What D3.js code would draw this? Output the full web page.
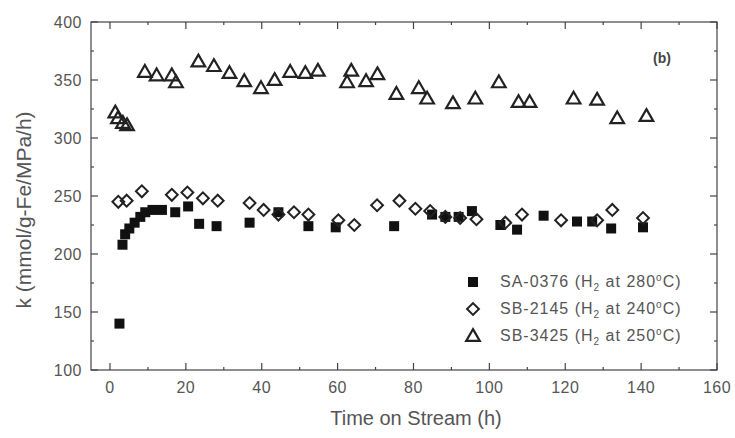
<!DOCTYPE html>
<html>
<head>
<meta charset="utf-8">
<script src="https://cdn.jsdelivr.net/npm/d3@7"></script>
<style>
  body { margin: 0; background: #fff; }
  svg { font-family: "Liberation Sans", Arial, sans-serif; }
</style>
</head>
<body>
<svg id="chart" width="735" height="438"></svg>
<script>
// data: [time (h), k]
var saData = [
  [2.5, 140], [3.3, 208], [4.0, 217], [5.1, 222], [6.5, 227], [8.0, 232],
  [9.3, 236], [11.2, 238], [13.7, 238], [17.2, 236], [20.6, 241], [23.5, 226],
  [28.1, 224], [36.8, 227], [44.4, 236], [52.3, 224], [59.5, 223], [74.9, 224],
  [84.9, 234], [88.4, 232], [91.9, 232], [95.4, 237], [102.9, 225], [107.3, 221],
  [114.3, 233], [123.1, 228], [127.1, 228], [132.1, 222], [140.5, 223]
];
var sbData = [
  [2.2, 245], [4.4, 246], [8.4, 254], [16.3, 251], [20.4, 253], [24.5, 248],
  [28.4, 246], [36.8, 244], [40.5, 238], [44.4, 234], [48.5, 236], [52.3, 234],
  [60.2, 229], [64.4, 225], [70.4, 242], [76.3, 246], [80.5, 239], [84.4, 237],
  [88.4, 232], [92.3, 231], [96.6, 230], [104.2, 227], [108.6, 234], [118.9, 229],
  [128.4, 229], [132.4, 238], [140.5, 231]
];
var sb3Data = [
  [1.4, 322], [2.1, 317], [3.4, 313], [4.5, 311], [9.2, 357], [12.3, 354],
  [16.3, 354], [17.4, 348], [23.3, 366], [27.4, 362], [31.5, 356], [35.4, 349],
  [39.8, 343], [43.4, 350], [47.5, 357], [51.5, 356], [54.8, 358], [62.5, 348],
  [63.6, 358], [67.5, 349], [70.5, 355], [75.5, 338], [81.4, 343], [83.6, 334],
  [90.4, 330], [96.3, 334], [102.5, 348], [107.7, 331], [110.6, 331], [122.2, 334],
  [128.4, 333], [133.7, 317], [141.4, 319]
];
var xTicks = [0, 20, 40, 60, 80, 100, 120, 140, 160];
var yTicks = [100, 150, 200, 250, 300, 350, 400];
var legendLabels = ['SA-0376 (H', 'SB-2145 (H', 'SB-3425 (H'];
var legendTemps = [' at 280', ' at 240', ' at 250'];

var ink = '#444';
var textInk = '#555';

// plot frame (pixels)
var frame = {left: 91, right: 717, top: 22, bottom: 370};
var svg = d3.select('#chart');

var x = d3.scaleLinear().domain([-5, 160]).range([frame.left, frame.right]);
var y = d3.scaleLinear().domain([100, 400]).range([frame.bottom, frame.top]);

// frame
svg.append('rect')
  .attr('x', frame.left).attr('y', frame.top)
  .attr('width', frame.right - frame.left).attr('height', frame.bottom - frame.top)
  .attr('fill', 'none').attr('stroke', ink).attr('stroke-width', 1.2);

// inward ticks on all four sides
var xMinor = d3.range(10, 160, 20);
var yMinor = d3.range(125, 400, 50);
function xTickMarks(vals, len) {
  [[frame.bottom, -len], [frame.top, len]].forEach(function(s) {
    svg.selectAll(null).data(vals).enter().append('line')
      .attr('x1', d => x(d)).attr('x2', d => x(d))
      .attr('y1', s[0]).attr('y2', s[0] + s[1])
      .attr('stroke', ink).attr('stroke-width', 1.2);
  });
}
function yTickMarks(vals, len) {
  [[frame.left, len], [frame.right, -len]].forEach(function(s) {
    svg.selectAll(null).data(vals).enter().append('line')
      .attr('y1', d => y(d)).attr('y2', d => y(d))
      .attr('x1', s[0]).attr('x2', s[0] + s[1])
      .attr('stroke', ink).attr('stroke-width', 1.2);
  });
}
xTickMarks(xTicks, 7);
xTickMarks(xMinor, 3);
yTickMarks(yTicks, 7);
yTickMarks(yMinor, 3);

// tick labels
svg.selectAll(null).data(xTicks).enter().append('text')
  .attr('x', d => x(d)).attr('y', frame.bottom + 23)
  .attr('text-anchor', 'middle')
  .attr('font-size', 16).attr('letter-spacing', 0.5).attr('fill', textInk)
  .text(d => d);
svg.selectAll(null).data(yTicks).enter().append('text')
  .attr('x', frame.left - 9).attr('y', d => y(d) + 6)
  .attr('text-anchor', 'end')
  .attr('font-size', 16).attr('letter-spacing', 0.5).attr('fill', textInk)
  .text(d => d);

// axis titles
svg.append('text')
  .attr('x', 416).attr('y', 425)
  .attr('text-anchor', 'middle')
  .attr('font-size', 20).attr('fill', textInk)
  .text('Time on Stream (h)');
svg.append('text')
  .attr('transform', 'translate(31,210) rotate(-90)')
  .attr('text-anchor', 'middle')
  .attr('font-size', 21).attr('fill', textInk)
  .text('k (mmol/g-Fe/MPa/h)');

svg.append('text')
  .attr('x', 662).attr('y', 63)
  .attr('text-anchor', 'middle')
  .attr('font-size', 14).attr('font-weight', 'bold').attr('fill', ink)
  .text('(b)');

// marker shapes
var squareSym = d3.symbol().type(d3.symbolSquare).size(100);
var triSym = d3.symbol().type(d3.symbolTriangle).size(80);
var diaSym = d3.symbol().type(d3.symbolSquare).size(70);

function drawSquare(g, px, py) {
  g.append('path').attr('d', squareSym())
    .attr('transform', 'translate(' + px + ',' + py + ')')
    .attr('fill', '#111');
}
function drawDiamond(g, px, py) {
  g.append('path').attr('d', diaSym())
    .attr('transform', 'translate(' + px + ',' + py + ') rotate(45)')
    .attr('fill', 'none').attr('stroke', '#222').attr('stroke-width', 2);
}
function drawTriangle(g, px, py) {
  g.append('path').attr('d', triSym())
    .attr('transform', 'translate(' + px + ',' + (py + 1) + ')')
    .attr('fill', 'none').attr('stroke', '#222').attr('stroke-width', 2.2);
}

var marks = svg.append('g');
sb3Data.forEach(d => drawTriangle(marks, x(d[0]), y(d[1])));
saData.forEach(d => drawSquare(marks, x(d[0]), y(d[1])));
sbData.forEach(d => drawDiamond(marks, x(d[0]), y(d[1])));

// legend
var drawers = [drawSquare, drawDiamond, drawTriangle];
var legY = [282, 309, 336];
legendLabels.forEach(function(lab, i) {
  drawers[i](svg, 473, legY[i]);
  var t = svg.append('text')
    .attr('x', 500).attr('y', legY[i] + 5)
    .attr('font-size', 16).attr('letter-spacing', 1).attr('fill', textInk);
  t.append('tspan').text(lab);
  t.append('tspan').attr('font-size', 10).attr('dy', 4).text('2');
  t.append('tspan').attr('dy', -4).text(legendTemps[i]);
  t.append('tspan').attr('font-size', 10).attr('dy', -6).text('o');
  t.append('tspan').attr('dy', 6).text('C)');
});
</script>
</body>
</html>
